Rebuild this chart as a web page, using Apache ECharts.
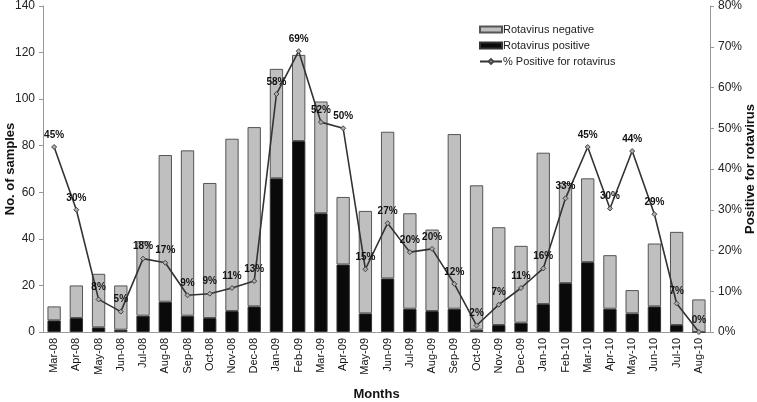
<!DOCTYPE html>
<html><head><meta charset="utf-8">
<script src="https://cdn.jsdelivr.net/npm/echarts@6/dist/echarts.min.js"></script>
<style>html,body{margin:0;padding:0;background:#fff}#c{width:757px;height:402px}</style>
</head><body><div id="c"></div>
<script>
var months = ["Mar-08","Apr-08","May-08","Jun-08","Jul-08","Aug-08","Sep-08","Oct-08","Nov-08","Dec-08","Jan-09","Feb-09","Mar-09","Apr-09","May-09","Jun-09","Jul-09","Aug-09","Sep-09","Oct-09","Nov-09","Dec-09","Jan-10","Feb-10","Mar-10","Apr-10","May-10","Jun-10","Jul-10","Aug-10"];
var positive = [5,6,2,1,7,13,7,6,9,11,66,82,51,29,8,23,10,9,10,1,3,4,12,21,30,10,8,11,3,0];
var negative = [6,14,23,19,32,63,71,58,74,77,47,37,48,29,44,63,41,35,75,62,42,33,65,43,36,23,10,27,40,14];
var percent = [45.4,30,8,5,18,17,9,9.4,10.8,12.5,58.4,68.9,51.5,50,15.4,26.7,19.6,20.4,11.8,1.6,6.7,10.8,15.6,32.8,45.4,30.3,44.4,28.9,7,0];
var leftTicks = [0,20,40,60,80,100,120,140];
var rightTicks = [0,10,20,30,40,50,60,70,80];

var font = "Liberation Sans, Arial, sans-serif";
var chart = echarts.init(document.getElementById('c'), null, {renderer:'canvas'});
chart.setOption({
  animation:false,
  textStyle:{fontFamily:font},
  grid:{left:43,right:47,top:6,bottom:70,containLabel:false,outerBoundsMode:'none'},
  legend:{
    orient:'vertical', left:474, top:19, itemGap:5, itemWidth:22, itemHeight:6,
    textStyle:{fontFamily:font,fontSize:11,color:'#222',padding:[0,0,0,-4]},
    data:[{name:'Rotavirus negative',icon:'rect'},{name:'Rotavirus positive',icon:'rect'},{name:'% Positive for rotavirus'}]
  },
  xAxis:{
    type:'category', data:months,
    axisLine:{lineStyle:{color:'#999'}},
    axisTick:{show:false},
    axisLabel:{rotate:90,fontSize:11,color:'#111',fontFamily:font,margin:6},
    name:'Months', nameLocation:'middle', nameGap:56, nameMoveOverlap:false,
    nameTextStyle:{fontWeight:'bold',fontSize:13,color:'#111',fontFamily:font}
  },
  yAxis:[{
    type:'value', min:leftTicks[0], max:leftTicks[leftTicks.length-1], interval:20,
    axisLine:{show:true,lineStyle:{color:'#999'}},
    axisTick:{show:true,inside:false,length:4,lineStyle:{color:'#999'}},
    splitLine:{show:false},
    axisLabel:{fontSize:12,color:'#222',fontFamily:font,margin:8},
    name:'No. of samples', nameLocation:'middle', nameGap:26, nameRotate:90, nameMoveOverlap:false,
    nameTextStyle:{fontWeight:'bold',fontSize:13,color:'#111',fontFamily:font}
  },{
    type:'value', min:rightTicks[0], max:rightTicks[rightTicks.length-1], interval:10,
    position:'right',
    axisLine:{show:true,lineStyle:{color:'#999'}},
    axisTick:{show:true,length:4,lineStyle:{color:'#999'}},
    splitLine:{show:false},
    axisLabel:{fontSize:12,color:'#222',fontFamily:font,margin:8,formatter:'{value}%'},
    name:'Positive for rotavirus', nameLocation:'middle', nameGap:34, nameRotate:90, nameMoveOverlap:false,
    nameTextStyle:{fontWeight:'bold',fontSize:13,color:'#111',fontFamily:font}
  }],
  series:[{
    name:'Rotavirus positive', type:'bar', stack:'s', data:positive, barWidth:'60%',
    itemStyle:{color:'#0a0a0a',borderColor:'#333',borderWidth:1}
  },{
    name:'Rotavirus negative', type:'bar', stack:'s', data:negative, barWidth:'60%',
    itemStyle:{color:'#bfbfbf',borderColor:'#555',borderWidth:1}
  },{
    name:'% Positive for rotavirus', type:'line', yAxisIndex:1, data:percent,
    symbol:'diamond', symbolSize:5, showAllSymbol:true,
    lineStyle:{color:'#333',width:1.6},
    itemStyle:{color:'#aaa',borderColor:'#444',borderWidth:1},
    label:{show:true,position:'top',distance:4,fontSize:10,fontWeight:'bold',color:'#111',fontFamily:font,
      formatter:function(p){return Math.round(p.value)+'%';}},
    z:5
  }]
});
</script></body></html>
